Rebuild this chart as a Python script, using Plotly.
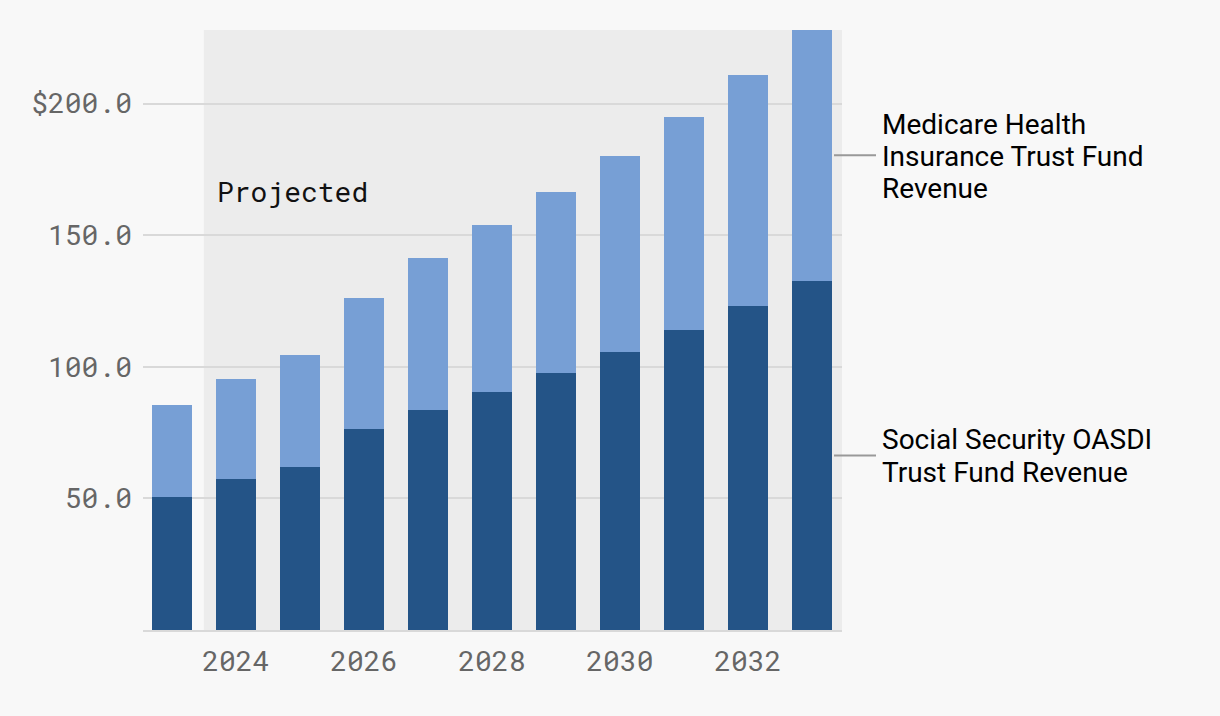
import plotly.graph_objects as go

years = [2023, 2024, 2025, 2026, 2027, 2028, 2029, 2030, 2031, 2032, 2033]
social_security = [50.6, 57.4, 62.0, 76.4, 83.7, 90.5, 97.7, 105.7, 114.0, 123.2, 132.7]
medicare = [34.9, 38.0, 42.6, 49.8, 57.7, 63.5, 68.8, 74.5, 81.0, 87.8, 95.4]
y_tickvals = [50, 100, 150, 200]
y_ticktext = ["50.0", "100.0", "150.0", "$200.0"]
x_tickvals = [2024, 2026, 2028, 2030, 2032]
ss_label_lines = ["Social Security OASDI", "Trust Fund Revenue"]
md_label_lines = ["Medicare Health", "Insurance Trust Fund", "Revenue"]
projected_start = 2023.5

DARK = "#245487"
LIGHT = "#779fd5"
BG = "#f8f8f8"
MONO = "Roboto Mono, DejaVu Sans Mono, Liberation Mono, monospace"
SANS = "Roboto, sans-serif"

fig = go.Figure()
fig.add_trace(go.Bar(x=years, y=social_security, marker=dict(color=DARK, line=dict(width=0)),
                     name="Social Security", showlegend=False))
fig.add_trace(go.Bar(x=years, y=medicare, marker=dict(color=LIGHT, line=dict(width=0)),
                     name="Medicare", showlegend=False))

L, R, T, B = 143, 378, 30, 86
W = 1220 - L - R

fig.update_layout(
    width=1220, height=716,
    barmode="stack", bargap=0.375,
    paper_bgcolor=BG, plot_bgcolor=BG,
    margin=dict(l=L, r=R, t=T, b=B),
    font=dict(family=SANS, color="#000"),
    xaxis=dict(range=[2022.55, 2033.47], tickvals=x_tickvals, showgrid=False,
               zeroline=False, showline=True, linecolor="#d9d9d9", linewidth=2,
               ticks="", ticklabelstandoff=5,
               tickfont=dict(family=MONO, size=28, color="#666")),
    yaxis=dict(range=[0, 228], tickvals=y_tickvals, ticktext=y_ticktext,
               showgrid=True, gridcolor="#d9d9d9", gridwidth=2, zeroline=False,
               ticks="", ticklabelstandoff=10,
               tickfont=dict(family=MONO, size=28, color="#666")),
)

# projected shading
fig.add_shape(type="rect", xref="x", yref="paper", x0=projected_start, x1=2033.47,
              y0=0, y1=1, fillcolor="#ececec", line=dict(width=0), layer="below")

fig.add_annotation(x=projected_start + 0.18, y=166.6, xref="x", yref="y",
                   text="Projected", showarrow=False, xanchor="left", yanchor="middle",
                   font=dict(family=MONO, size=28, color="#111"))

last_ss = social_security[-1]
last_md = medicare[-1]
groups = [
    (ss_label_lines, last_ss / 2, [16, -17]),
    (md_label_lines, last_ss + last_md / 2, [31, -1, -33]),
]
for lines, ymid, shifts in groups:
    fig.add_shape(type="line", xref="paper", yref="y",
                  x0=(834 - L) / W, x1=(876 - L) / W, y0=ymid, y1=ymid,
                  line=dict(color="#999", width=2))
    for text, shift in zip(lines, shifts):
        fig.add_annotation(xref="paper", yref="y", x=(880 - L) / W, y=ymid, yshift=shift,
                           text=text, showarrow=False, xanchor="left", yanchor="middle",
                           align="left", font=dict(family=SANS, size=28, color="#000"))

fig.write_html("out.html", config={"displayModeBar": False},
               post_script="document.body.style.margin='0';document.body.style.background='#f8f8f8';")
